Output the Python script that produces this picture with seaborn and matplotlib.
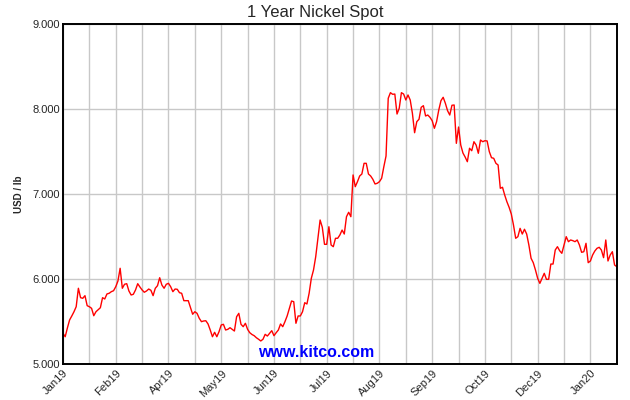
import matplotlib
matplotlib.use("Agg")
import matplotlib.pyplot as plt
import numpy as np
import pandas as pd
import seaborn as sns

# Daily nickel spot prices (USD / lb), one value per trading day
prices_jan_apr = [
    5.361, 5.321, 5.424, 5.518, 5.565, 5.615, 5.674, 5.891, 5.780, 5.773,
    5.804, 5.686, 5.674, 5.655, 5.568, 5.615, 5.639, 5.662, 5.780, 5.765,
    5.824, 5.832, 5.851, 5.862, 5.909, 5.976, 6.126, 5.891, 5.938, 5.945,
    5.859, 5.812, 5.820, 5.871, 5.945, 5.906, 5.871, 5.844, 5.859, 5.882,
    5.867, 5.804, 5.891, 5.921, 6.015, 5.929, 5.891, 5.938, 5.949, 5.909,
    5.851, 5.882, 5.879,
]
prices_apr_jun = [
    5.839, 5.832, 5.745, 5.745, 5.745, 5.667, 5.585, 5.615, 5.596, 5.538,
    5.498, 5.506, 5.509, 5.471, 5.400, 5.321, 5.373, 5.321, 5.380, 5.459,
    5.467, 5.400, 5.408, 5.427, 5.408, 5.388, 5.556, 5.596, 5.467, 5.439,
    5.479, 5.408, 5.368, 5.347, 5.333, 5.309, 5.291, 5.271, 5.291, 5.349,
    5.329, 5.361, 5.392, 5.333, 5.368, 5.400, 5.471, 5.439, 5.498, 5.565,
    5.655, 5.741, 5.733,
]
prices_jun_aug = [
    5.479, 5.565, 5.565, 5.615, 5.721, 5.706, 5.832, 6.008, 6.106, 6.262,
    6.479, 6.694, 6.608, 6.408, 6.408, 6.615, 6.400, 6.380, 6.479, 6.479,
    6.518, 6.576, 6.529, 6.733, 6.785, 6.733, 7.224, 7.086, 7.145, 7.212,
    7.235, 7.361, 7.361, 7.235, 7.212, 7.173, 7.118, 7.126,
]
prices_aug_oct = [
    7.145, 7.185, 7.321, 7.447, 8.126, 8.192, 8.173, 8.176, 7.941, 8.008,
    8.192, 8.176, 8.106, 8.165, 8.106, 7.949, 7.721, 7.851, 7.879, 8.020,
    8.039, 7.918, 7.929, 7.902, 7.862, 7.773, 7.851, 7.988, 8.098, 8.138,
    8.067, 7.980, 7.929, 8.044, 8.047, 7.596, 7.788, 7.576, 7.482, 7.435,
    7.380, 7.538, 7.509, 7.615, 7.576, 7.479, 7.635, 7.615, 7.627, 7.624,
    7.498, 7.427, 7.420, 7.361, 7.341, 7.067,
]
prices_oct_jan = [
    7.079, 6.988, 6.909, 6.844, 6.765, 6.635, 6.479, 6.498, 6.596, 6.529,
    6.585, 6.529, 6.400, 6.244, 6.192, 6.106, 6.008, 5.949, 6.008, 6.067,
    5.996, 5.996, 6.176, 6.176, 6.341, 6.380, 6.333, 6.302, 6.400, 6.498,
    6.439, 6.459, 6.451, 6.439, 6.459, 6.400, 6.314, 6.321, 6.420, 6.192,
    6.212, 6.282, 6.329, 6.361, 6.373, 6.341, 6.251, 6.459, 6.212, 6.282,
    6.321, 6.165, 6.145,
]

# labels of every other gridline on the trading-day axis
month_labels = ["Jan19", "Feb19", "Apr19", "May19", "Jun19", "Jul19",
                "Aug19", "Sep19", "Oct19", "Dec19", "Jan20"]
y_ticks = [5, 6, 7, 8, 9]

prices = (prices_jan_apr + prices_apr_jun + prices_jun_aug
          + prices_aug_oct + prices_oct_jan)
df = pd.DataFrame({"day": np.arange(len(prices)), "price": prices})

sns.set_style("white")
plt.rcParams["font.family"] = ["Liberation Sans", "DejaVu Sans"]

fig = plt.figure(figsize=(6.3, 4.0), dpi=100)
ax = fig.add_axes([0.1, 0.09, 0.879, 0.85])

sns.lineplot(data=df, x="day", y="price", ax=ax, color="#ff0000", linewidth=1.0)

n = len(prices) - 1
grid_pos = np.linspace(0, n, 2 * len(month_labels))
ax.set_xticks(grid_pos)
labels = []
for i in range(len(grid_pos)):
    labels.append(month_labels[i // 2] if i % 2 == 0 else "")
ax.set_xticklabels(labels, rotation=45, ha="right", va="top",
                   rotation_mode="anchor", fontsize=8)
ax.tick_params(axis="x", length=0, pad=3)

ax.set_yticks(y_ticks)
ax.set_yticklabels([f"{v:.3f}" for v in y_ticks], fontsize=8)
ax.tick_params(axis="y", direction="in", length=5, width=1.2, color="black", pad=2)

ax.set_xlim(0, n)
ax.set_ylim(5, 9)
ax.grid(True, color="#c8c8c8", linewidth=1.0)
ax.set_axisbelow(True)
for side in ["left", "right", "top", "bottom"]:
    ax.spines[side].set_color("black")
    ax.spines[side].set_linewidth(1.4)

ax.set_xlabel("")
ax.set_ylabel("USD / lb", fontsize=7, fontweight="bold", labelpad=6)
ax.set_title("1 Year Nickel Spot", fontsize=12, pad=5, x=0.455)

ax.text(0.457, 0.035, "www.kitco.com", transform=ax.transAxes,
        color="#0000ff", fontsize=11.5, fontweight="bold", ha="center", va="center")

fig.savefig("out.png", dpi=100)
